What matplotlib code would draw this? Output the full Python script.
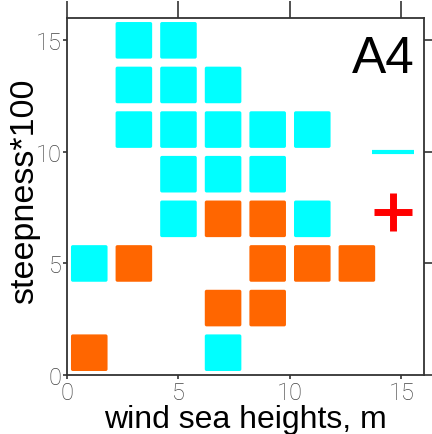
import matplotlib
matplotlib.use("Agg")
import matplotlib.pyplot as plt
from matplotlib.patches import FancyBboxPatch

# Data: cell centres (wind sea heights, m ; steepness*100)
cyan_x = [3, 5, 3, 5, 7, 3, 5, 7, 9, 11, 5, 7, 9, 5, 11, 1, 7]
cyan_y = [15, 15, 13, 13, 13, 11, 11, 11, 11, 11, 9, 9, 9, 7, 7, 5, 1]
orange_x = [7, 9, 3, 9, 11, 13, 7, 9, 1]
orange_y = [7, 7, 5, 5, 5, 5, 3, 3, 1]
x_ticks = [0, 5, 10, 15]
y_ticks = [0, 5, 10, 15]
panel_label = "A4"
x_label = "wind sea heights, m"
y_label = "steepness*100"

CYAN = "#00FFFF"
ORANGE = "#FF6600"
CELL = 1.64

fig = plt.figure(figsize=(4.32, 4.35), dpi=100)
ax = fig.add_axes([0.155, 0.1356, 0.826, 0.8207])
ax.set_xlim(0, 16)
ax.set_ylim(0, 16)

def draw_cells(xs, ys, color):
    for x, y in zip(xs, ys):
        ax.add_patch(FancyBboxPatch((x - CELL / 2, y - CELL / 2), CELL, CELL,
                                    boxstyle="round,pad=0,rounding_size=0.08",
                                    facecolor=color, edgecolor="none"))

draw_cells(cyan_x, cyan_y, CYAN)
draw_cells(orange_x, orange_y, ORANGE)

ax.set_xticks(x_ticks)
ax.set_yticks(y_ticks)
ax.set_xticklabels([str(t) for t in x_ticks], fontsize=17, color="#444444",
                   family="Roboto", fontweight="light")
ax.set_yticklabels([str(t) for t in y_ticks], fontsize=17, color="#444444",
                   family="Roboto", fontweight="light")
ax.tick_params(axis="both", which="both", direction="out", length=3, width=1.2,
               color="#333333", pad=1)
ax.tick_params(top=True, right=True, labeltop=False, labelright=False)
for sp in ax.spines.values():
    sp.set_linewidth(1.3)
    sp.set_color("#333333")

# longer outward ticks on top/right
for t in ax.xaxis.get_major_ticks():
    t.tick2line.set_markersize(12)
for t in ax.yaxis.get_major_ticks():
    t.tick2line.set_markersize(9)

ax.set_xlabel(x_label, fontsize=23, family="Liberation Sans", labelpad=0)
ax.set_ylabel(y_label, fontsize=24.5, family="Liberation Sans")
ax.yaxis.set_label_coords(-0.075, 0.517)

ax.text(0.975, 0.955, panel_label, transform=ax.transAxes, ha="right", va="top",
        fontsize=37, family="Liberation Sans")
ax.plot([0.914], [0.625], transform=ax.transAxes, marker="_", markersize=30,
        markeredgewidth=3, color=CYAN, clip_on=False)
ax.plot([0.914], [0.457], transform=ax.transAxes, marker="+", markersize=27,
        markeredgewidth=5, color="#FF0000", clip_on=False)

fig.savefig("out.png", dpi=100)
